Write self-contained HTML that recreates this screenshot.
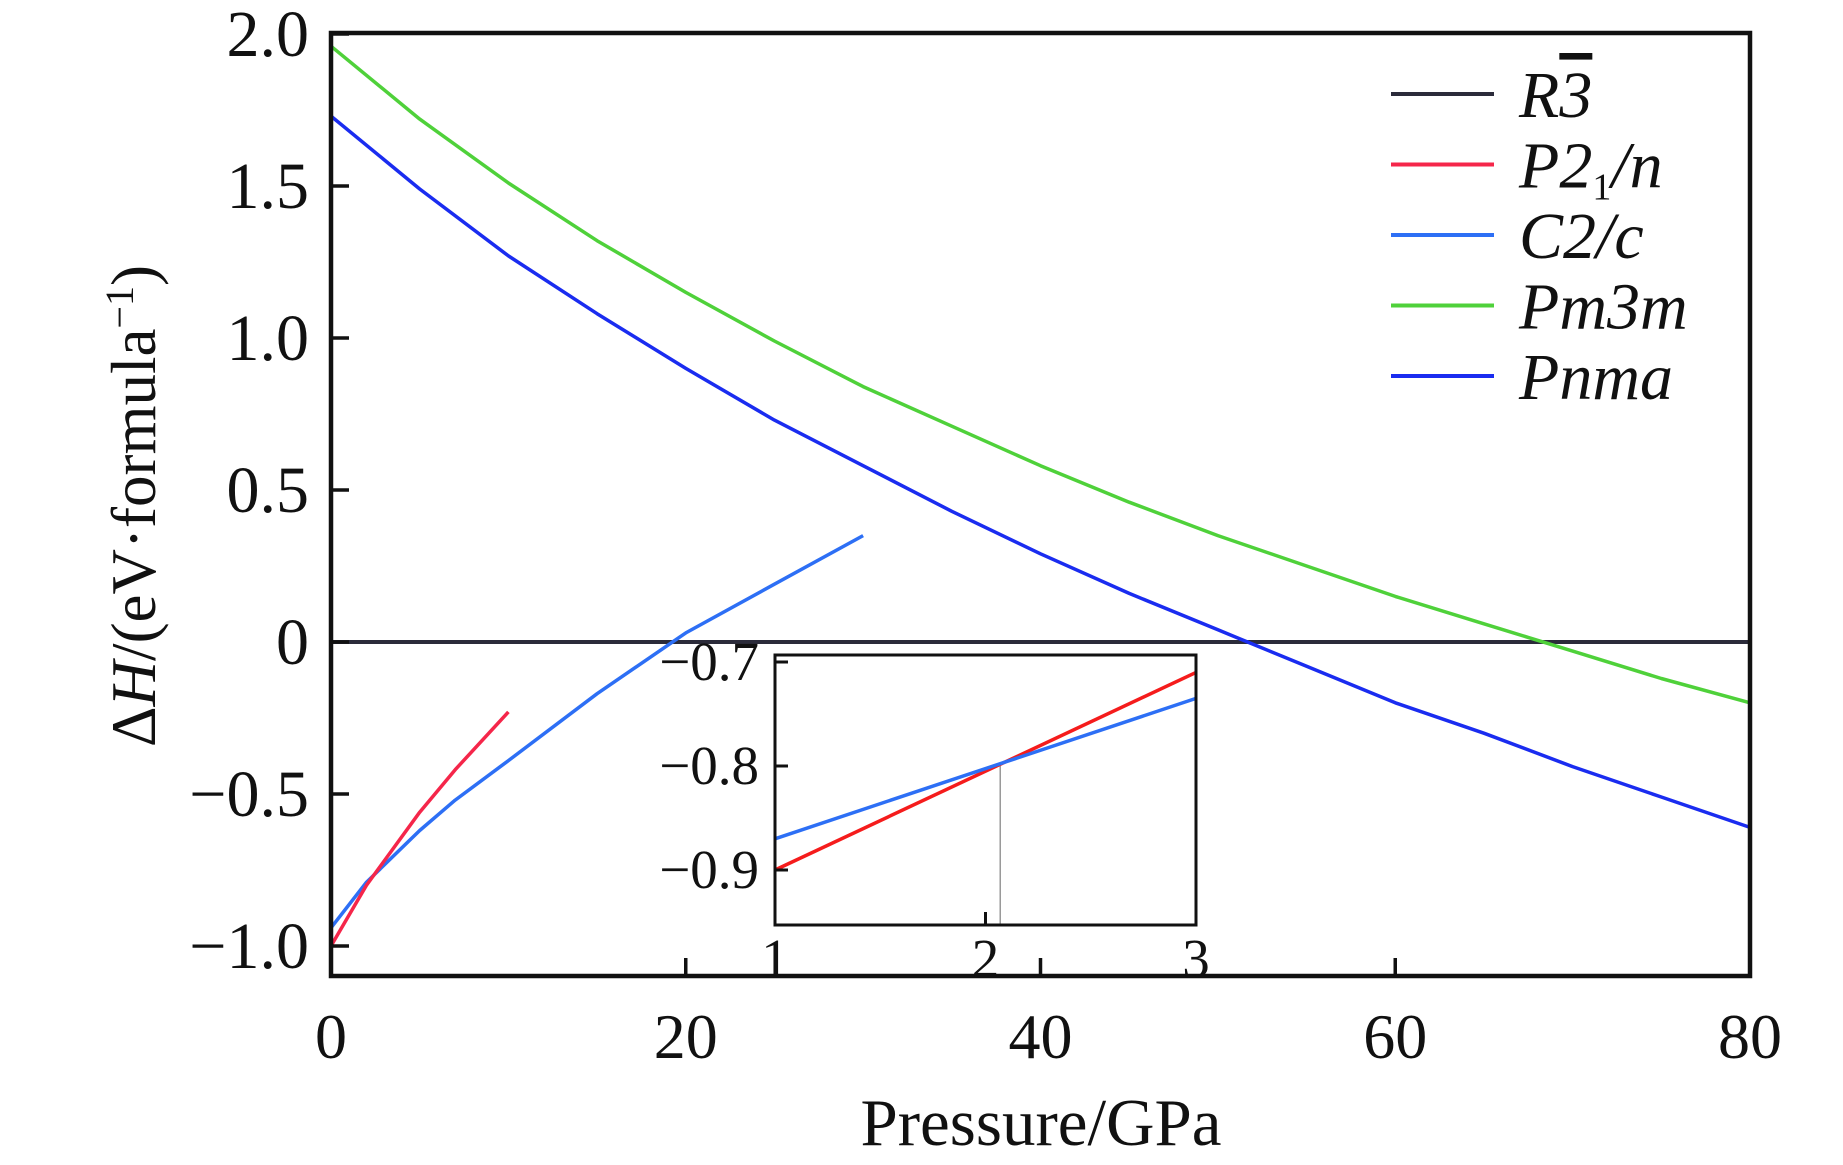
<!DOCTYPE html>
<html><head><meta charset="utf-8"><style>
body{margin:0;background:#fff}
svg text{font-family:"Liberation Serif",serif;fill:#111}
</style></head><body>
<svg width="1843" height="1160" xmlns="http://www.w3.org/2000/svg">
<g id="main"></g>
</svg>
<script>
const xP=[0,5,10,15,20,25,30,35,40,45,50,55,60,65,70,75,80];
const pm3m=[1.96,1.72,1.51,1.32,1.15,0.99,0.84,0.71,0.58,0.46,0.35,0.25,0.15,0.06,-0.03,-0.12,-0.2];
const pnma=[1.73,1.49,1.27,1.08,0.9,0.73,0.58,0.43,0.29,0.16,0.04,-0.08,-0.2,-0.3,-0.41,-0.51,-0.61];
const xC=[0,2,5,7,10,15,20,25,30];
const c2c=[-0.94,-0.79,-0.62,-0.52,-0.39,-0.17,0.03,0.19,0.35];
const xPn=[0,2,5,7,10];
const p21n=[-1.0,-0.8,-0.56,-0.42,-0.23];
const r3x=[0,80];const r3=[0,0];
const xTicks=[0,20,40,60,80];
const yTicks=[-1.0,-0.5,0,0.5,1.0,1.5,2.0];
const yTickLabels=["\u22121.0","\u22120.5","0","0.5","1.0","1.5","2.0"];
const inX=[1,3];const inRed=[-0.9,-0.71];const inBlue=[-0.87,-0.735];
const inXTicks=[1,2,3];const inYTicks=[-0.7,-0.8,-0.9];
const inYLabels=["\u22120.7","\u22120.8","\u22120.9"];
const crossX=2.07;

const NS="http://www.w3.org/2000/svg";
const g=document.getElementById('main');
function el(t,a,p){const e=document.createElementNS(NS,t);for(const k in a)e.setAttribute(k,a[k]);(p||g).appendChild(e);return e;}
const L=331,R=1750,T=33,B=976;
const sx=v=>L+(v-0)/80*(R-L);
const sy=v=>642-v*304;
function line(xs,ys,c,name,fx,fy,w){let d=xs.map((x,i)=>(i?'L':'M')+fx(x).toFixed(1)+','+fy(ys[i]).toFixed(1)).join('');
const p=el('path',{d:d,fill:'none',stroke:c,'stroke-width':w||3.5,'stroke-linejoin':'round'});

}
line(r3x,r3,'#2b2b3a','series-r3bar',sx,sy,4);
line(xP,pm3m,'#4fd13a','series-pm3m',sx,sy);
line(xP,pnma,'#1a2cf0','series-pnma',sx,sy);
line(xC,c2c,'#2d6ff5','series-c2c',sx,sy);
line(xPn,p21n,'#f5264a','series-p21n',sx,sy);
const fr=el('rect',{x:L,y:T,width:R-L,height:B-T,fill:'none',stroke:'#111','stroke-width':4.5});


xTicks.forEach(v=>{
 el('line',{x1:sx(v),x2:sx(v),y1:B,y2:B-18,stroke:'#111','stroke-width':3.5});
 const t=el('text',{x:sx(v),y:B+82,'font-size':64,'text-anchor':'middle'});t.textContent=v;
 
 
});
yTicks.forEach((v,i)=>{
 el('line',{x1:L,x2:L+18,y1:sy(v),y2:sy(v),stroke:'#111','stroke-width':3.5});
 const t=el('text',{x:L-22,y:sy(v)+22,'font-size':66,'text-anchor':'end'});t.textContent=yTickLabels[i];
 
 
});
const xl=el('text',{x:1041,y:1145,'font-size':67,'text-anchor':'middle'});xl.textContent='Pressure/GPa';


const yl=el('text',{x:0,y:0,'font-size':63,'text-anchor':'middle',transform:'translate(155,506) rotate(-90)'});
yl.innerHTML='\u0394<tspan font-style="italic">H</tspan>/(eV\u00b7formula<tspan dy="-22" font-size="40">\u22121</tspan><tspan dy="22">)</tspan>';


const leg=[['#2b2b3a','R<tspan text-decoration="overline">3</tspan>'],['#f5264a','P2<tspan font-size="38" dy="12" font-style="normal">1</tspan><tspan dy="-12">/n</tspan>'],['#2d6ff5','C2/c'],['#4fd13a','Pm3m'],['#1a2cf0','Pnma']];
leg.forEach((l,i)=>{const y=94+i*70.5;
 const ln=el('line',{x1:1391,x2:1494,y1:y,y2:y,stroke:l[0],'stroke-width':4});
 
 
 const t=el('text',{x:1519,y:y+23,'font-size':66,'font-style':'italic'});t.innerHTML=l[1];
 
 
});
const IL=775,IR=1196,IT=655,IB=925;
const ix=v=>IL+(v-1)/2*(IR-IL);
const iy=v=>766+(-0.8-v)*1040;
el('rect',{x:IL,y:IT,width:IR-IL,height:IB-IT,fill:'#fff',stroke:'none'});
el('line',{x1:ix(crossX),x2:ix(crossX),y1:iy(-0.8),y2:IB,stroke:'#999','stroke-width':1.5});
line(inX,inRed,'#f51c1c','inset-p21n',ix,iy,3.5);
line(inX,inBlue,'#2d6ff5','inset-c2c',ix,iy,3.5);
const ir=el('rect',{x:IL,y:IT,width:IR-IL,height:IB-IT,fill:'none',stroke:'#111','stroke-width':3});


inXTicks.forEach(v=>{el('line',{x1:ix(v),x2:ix(v),y1:IB,y2:IB-13,stroke:'#111','stroke-width':3});
 const t=el('text',{x:ix(v),y:IB+52,'font-size':55,'text-anchor':'middle'});t.textContent=v;
 
 });
inYTicks.forEach((v,i)=>{el('line',{x1:IL,x2:IL+13,y1:iy(v),y2:iy(v),stroke:'#111','stroke-width':3});
 const t=el('text',{x:IL-16,y:iy(v)+18,'font-size':55,'text-anchor':'end'});t.textContent=inYLabels[i];
 
 });
</script>
</body></html>
